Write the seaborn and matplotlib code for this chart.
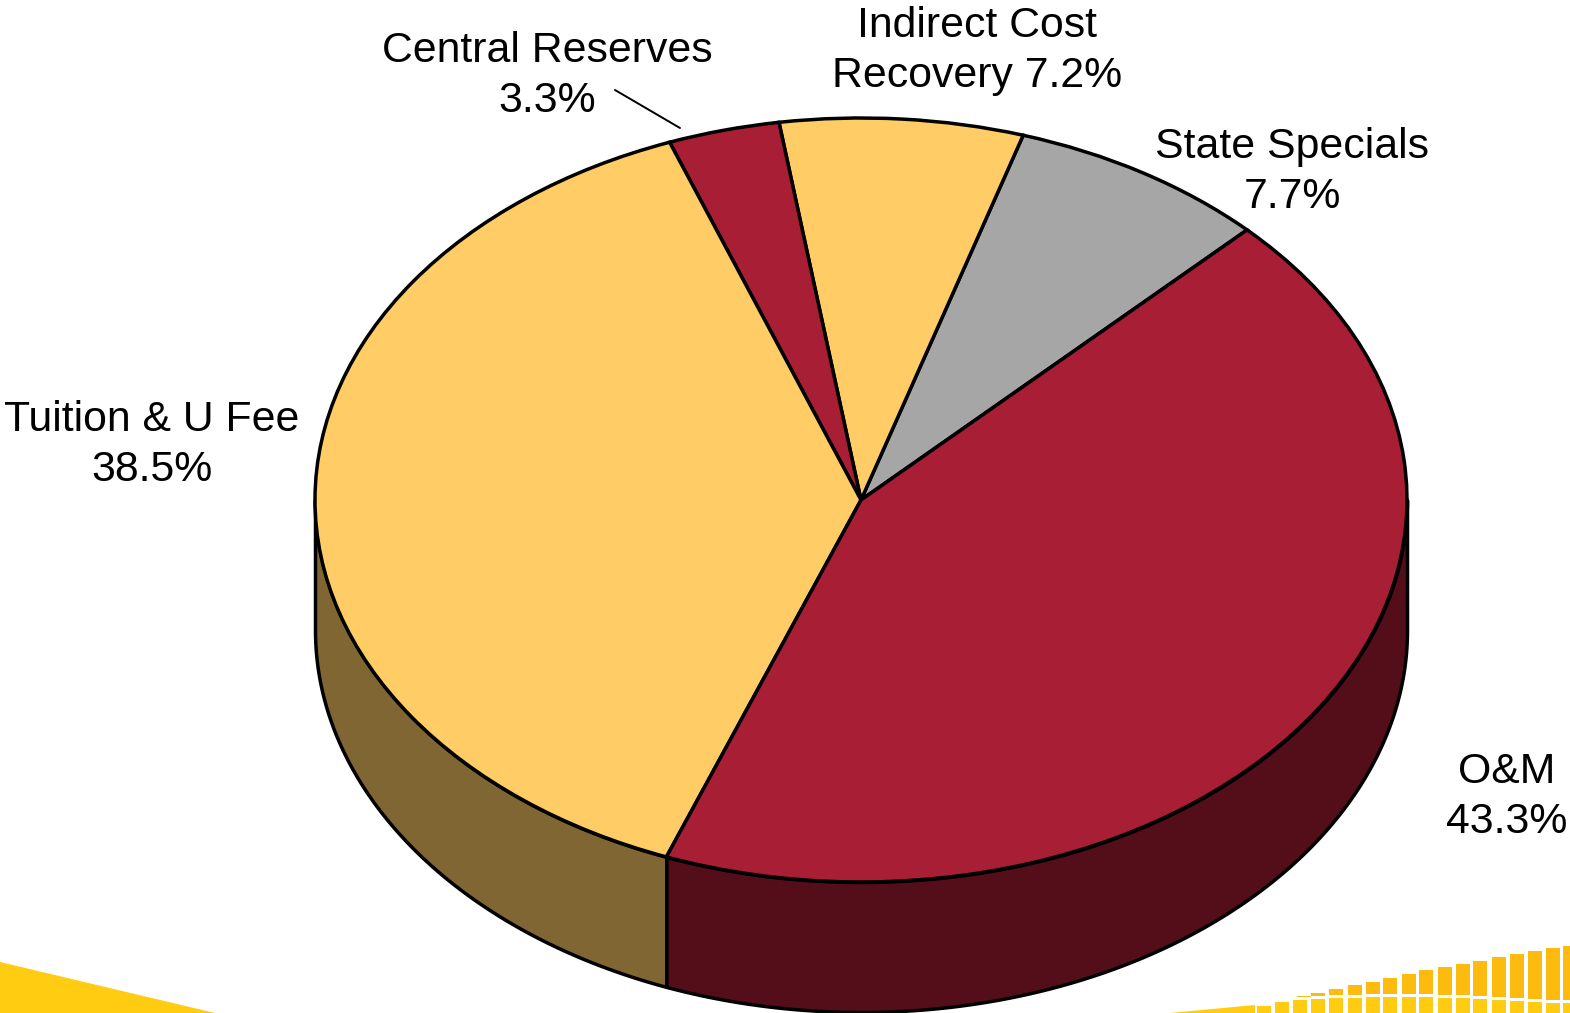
import numpy as np
import seaborn as sns
import matplotlib.pyplot as plt

# pie data, counterclockwise from the 45 degree start
categories = ['State Specials', 'Indirect Cost', 'Central Reserves', 'Tuition & U Fee', 'O&M']
shares = [7.7, 7.2, 3.3, 38.5, 43.3]
labels = ['State Specials\n7.7%', 'Indirect Cost\nRecovery 7.2%', 'Central Reserves\n3.3%',
          'Tuition & U Fee\n38.5%', 'O&M\n43.3%']

# footer artwork, left edge, top and bottom of each bar
band_left = [1563, 1546, 1528, 1510, 1492, 1473, 1456, 1438, 1419, 1402, 1383, 1366, 1348, 1329, 1311, 1297]
band_top = [946, 948, 951, 954, 957, 961, 964, 967, 970, 974, 978, 982, 985, 989, 993, 997]
band_bottom = [1000, 1000, 999, 998, 997, 996, 995, 995, 994, 994, 994, 994, 995, 995, 996, 996]
band_low_left = [1563, 1546, 1528, 1510, 1492, 1473, 1456, 1438, 1419, 1402, 1383, 1366, 1348, 1329, 1311, 1293, 1275, 1257]
band_low_top = [1003, 1003, 1002, 1001, 1000, 999, 998, 998, 997, 997, 997, 997, 998, 998, 999, 1000, 1002, 1006]

sns.set_theme(style='white')
plt.rcParams['font.family'] = ['Liberation Sans', 'DejaVu Sans']

colors = ['#A6A6A6', '#FFCC66', '#A71E35', '#FFCC66', '#A71E35']
side_colors = {'Tuition & U Fee': '#806633', 'O&M': '#540E1A'}
start = 45
depth = 130 / 382

fig = plt.figure(figsize=(15.7, 10.13), dpi=100)
ax = fig.add_axes([0, 0, 1, 1])
ax.pie(shares, colors=colors, startangle=start, radius=1,
       wedgeprops={'edgecolor': 'black', 'linewidth': 2.5, 'zorder': 3})
ax.set_aspect('auto')
ax.set_xlim(-861 / 546, 709 / 546)
ax.set_ylim(-513 / 382, 500 / 382)

# rim of the pie, only the front half shows
edges = start + np.cumsum([0] + shares) * 3.6
for i, name in enumerate(categories):
    a0, a1 = max(edges[i], 180), min(edges[i + 1], 360)
    if name in side_colors and a1 > a0:
        t = np.radians(np.linspace(a0, a1, 200))
        ax.fill_between(np.cos(t), np.sin(t), np.sin(t) - depth, color=side_colors[name],
                        edgecolor='black', linewidth=2.5, zorder=2)

# overlay in pixels for labels and footer
over = fig.add_axes([0, 0, 1, 1], zorder=5)
over.axis('off')
over.patch.set_alpha(0)

label_pos = [(1292, 172), (977, 51), (547, 76), (152, 445), (1507, 797)]
for txt, (x, y) in zip(labels, label_pos):
    over.text(x, y, txt, ha='center', va='center', fontsize=30.8, color='black', linespacing=1.3)
over.plot([615, 680], [90, 128], color='black', lw=1.4)

over.fill([0, 215, 0], [962, 1013, 1013], color='#FFCC11', lw=0)
over.fill([1170, 1255, 1255, 1215], [1013, 1005, 1013, 1013], color='#FFCC11', lw=0)
over.bar(band_low_left, [1013 - v for v in band_low_top], width=14, bottom=band_low_top,
         align='edge', color='#FFCC11', lw=0)
over.bar(band_left, [b - t for b, t in zip(band_bottom, band_top)],
         width=14, bottom=band_top, align='edge', color='#FDBB10', lw=0)
over.set_xlim(0, 1570)
over.set_ylim(1013, 0)

fig.savefig('out.png', dpi=100)
